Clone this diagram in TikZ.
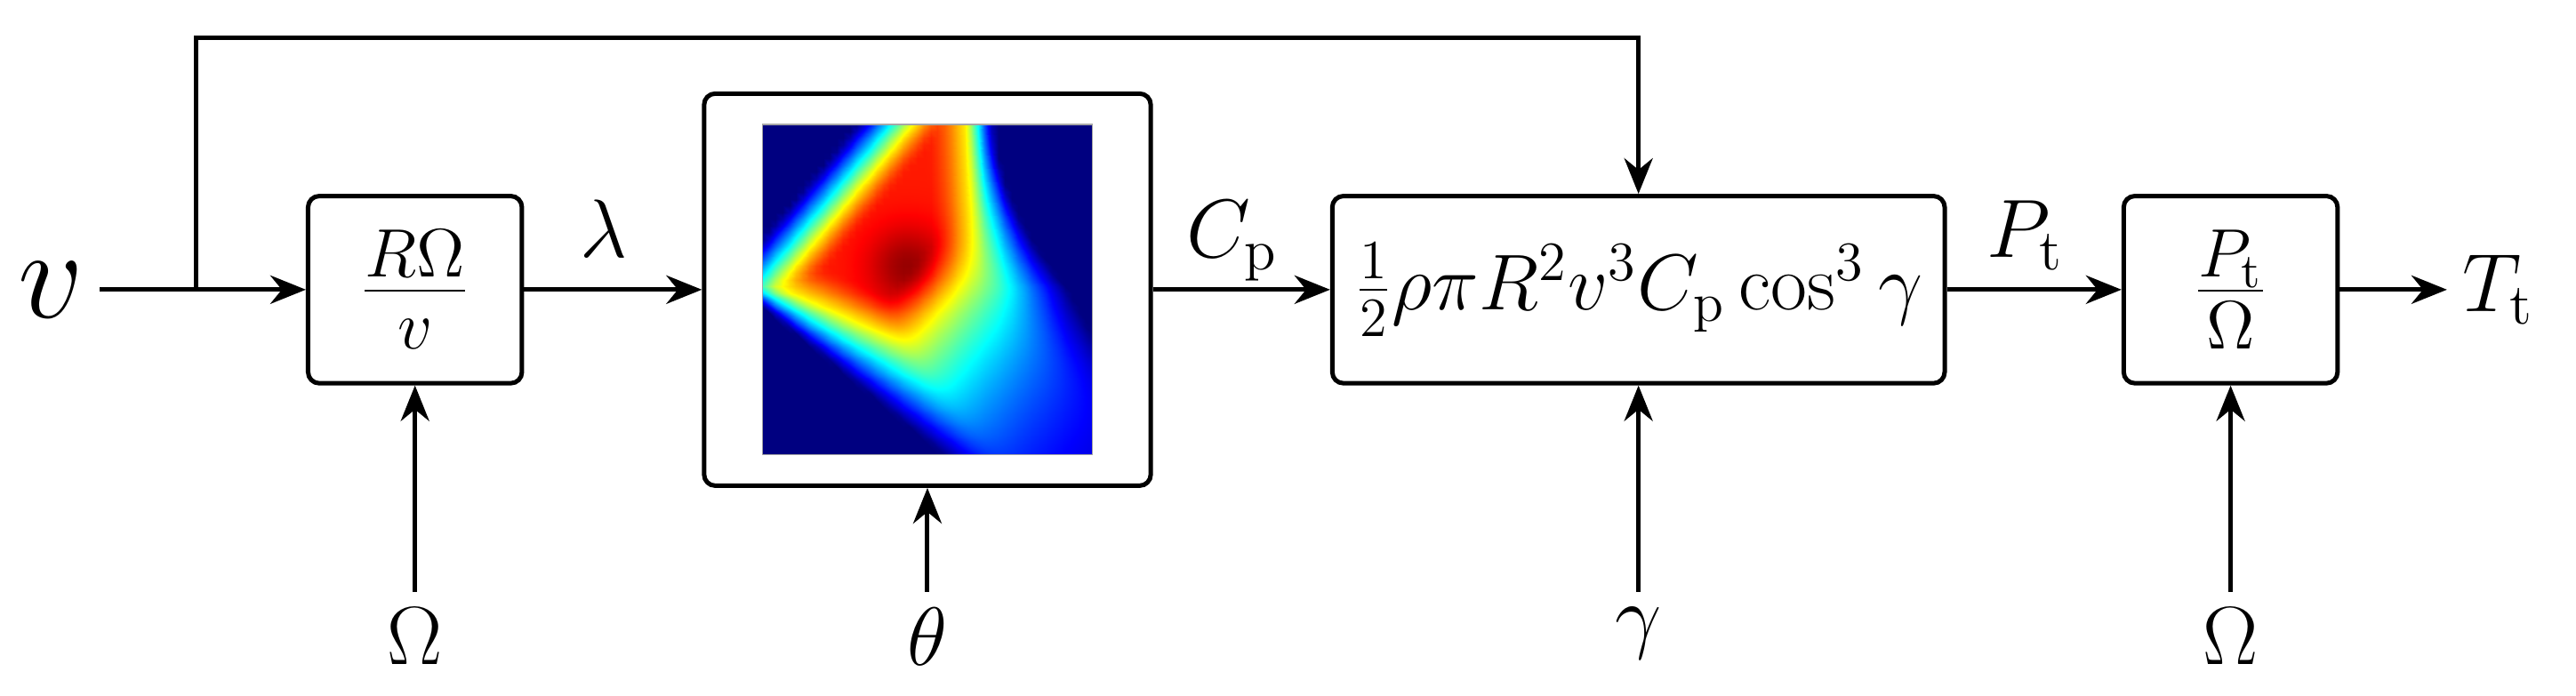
\RequirePackage{fix-cm}
\documentclass[tikz,border=0pt]{standalone}
\usepackage{pgfplots}
\pgfplotsset{compat=1.18}
\usetikzlibrary{arrows.meta}

\tikzset{
  block/.style={draw, line width=1pt, rounded corners=2.5pt, minimum width=1.69cm, minimum height=1.48cm, inner sep=2pt},
  frac/.style={font=\fontsize{22}{26}\selectfont},
  sig/.style={line width=1pt, -{Stealth[length=8pt,width=6.4pt]}},
  lbl/.style={pos=0.45, anchor=base, yshift=7.2pt, inner sep=0pt}
}

\begin{document}
\begin{tikzpicture}[font=\fontsize{18.6}{22}\selectfont]
\useasboundingbox (0,0) rectangle (20.36,5.50);

%blocks on the main line
\node[block, frac] (tsr) at (3.28,3.21) {$\frac{R\Omega}{v}$};
\node[block, minimum width=3.53cm, minimum height=3.10cm] (cpmap) at (7.33,3.21) {};
\node[block, minimum width=4.84cm, font=\fontsize{17.8}{21}\selectfont] (power) at (12.95,3.21) {$\frac{1}{2}\rho\pi R^2v^3C_\mathrm{p}\cos^3\gamma$};
\node[block, frac] (torque) at (17.63,3.21) {$\frac{P_\mathrm{t}}{\Omega}$};

%input, output and the branch of v
\node[anchor=east, font=\fontsize{29}{34}\selectfont] (vin) at (0.79,3.21) {$v$};
\node[anchor=west] (Tt) at (19.34,3.21) {$T_\mathrm{t}$};
\coordinate (fork) at (1.55,3.21);
\coordinate (top) at (12.95,5.20);

\draw[sig] (vin) -- (tsr);
\draw[sig] (tsr) -- node[lbl] (lam) {$\lambda$} (cpmap);
\draw[sig] (cpmap) -- node[lbl] (cpl) {$C_\mathrm{p}$} (power);
\draw[sig] (power) -- node[lbl] (ptl) {$P_\mathrm{t}$} (torque);
\draw[sig] (torque) -- (Tt);
\draw[sig] (fork) |- (top) -- (power);

%inputs from below
\foreach \n/\x/\s in {om1/3.28/\Omega, pitch/7.33/\theta, yaw/12.95/\gamma, om2/17.63/\Omega}
  \node[anchor=north] (\n) at (\x,0.82) {$\s$};
\foreach \n/\b in {om1/tsr, pitch/cpmap, yaw/power, om2/torque}
  \draw[sig] (\n) -- (\b);

%Cp map inside the second block
\begin{axis}[name=cpplot, at={(cpmap.center)}, anchor=center,
  width=2.61cm, height=2.61cm, scale only axis, hide axis,
  view={0}{90}, xmin=0, xmax=1, ymin=0, ymax=1,
  colormap/jet, point meta min=0, point meta max=1,
  declare function={
    da(\x,\y)=-0.768*\x+0.64*\y;
    ga(\x,\y)=min(0.92,0.625-3.88*(da(\x,\y)-0.292),0.625-4.921*(da(\x,\y)-0.292));
    ub(\x,\y)=0.526-0.435*\x-\y;
    gb(\x,\y)=(ub(\x,\y)>0)?(0.625*(1-ub(\x,\y)/(0.076+0.385*\x))):(min(0.92,0.625-2.46*ub(\x,\y)));
    uc(\x,\y)=\x-0.67+0.05*\y+0.41*max(0,0.5-\y);
    gc(\x,\y)=(uc(\x,\y)>0)?(0.625*(1-uc(\x,\y)/(0.08+0.8*(1-\y)^2))):(min(0.92,0.625-2.46*uc(\x,\y)));
    gd(\x,\y)=min(0.92,0.92*exp(-2.79*(0.78*\x-0.63*\y+0.0022)));
    sm(\x,\y)=-0.05*ln(exp(-ga(\x,\y)/0.05)+exp(-gb(\x,\y)/0.05)+exp(-gc(\x,\y)/0.05)+exp(-gd(\x,\y)/0.05));
    cpv(\x,\y)=max(0,min(1,sm(\x,\y)*(1+0.15*exp(-((\x-0.44)^2+(\y-0.57)^2)/0.015))));
  }]
\addplot3[surf, shader=interp, domain=0:1, y domain=0:1, samples=50] {cpv(x,y)};
\end{axis}
\draw[gray!70, line width=0.3pt] (cpplot.south west) rectangle (cpplot.north east);
\end{tikzpicture}
\end{document}
